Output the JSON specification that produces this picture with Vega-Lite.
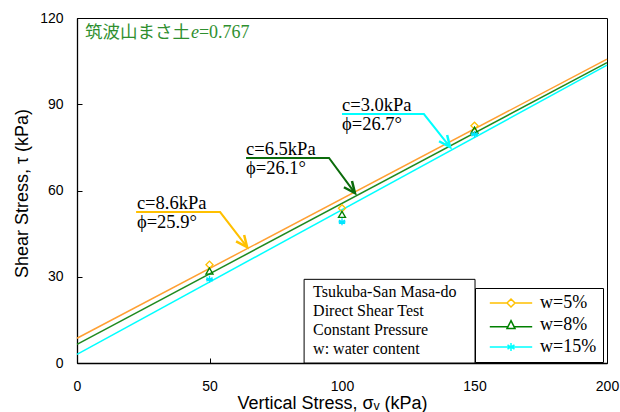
{
  "$schema": "https://vega.github.io/schema/vega-lite/v6.json",
  "width": 530,
  "height": 345,
  "autosize": {"type": "none"},
  "padding": {"left": 77, "top": 18, "right": 13, "bottom": 49},
  "background": "white",
  "config": {
    "view": {"stroke": "black", "strokeWidth": 1},
    "axis": {
      "grid": false,
      "domainColor": "black",
      "domainWidth": 1.3,
      "tickColor": "black",
      "tickSize": -5,
      "labelFlush": false,
      "labelFont": "Liberation Sans",
      "labelFontSize": 14,
      "labelColor": "black",
      "titleFont": "Liberation Sans",
      "titleFontSize": 18,
      "titleFontWeight": "normal",
      "titleColor": "black"
    }
  },
  "datasets": {
    "fits": [
      {"series": "w=5%", "x": 0, "y": 8.6},
      {"series": "w=5%", "x": 200, "y": 105.7},
      {"series": "w=8%", "x": 0, "y": 6.5},
      {"series": "w=8%", "x": 200, "y": 104.5},
      {"series": "w=15%", "x": 0, "y": 3.0},
      {"series": "w=15%", "x": 200, "y": 103.6}
    ],
    "tests": [
      {"series": "w=5%", "x": 50, "y": 34.2},
      {"series": "w=5%", "x": 100, "y": 53.8},
      {"series": "w=5%", "x": 150, "y": 82.5},
      {"series": "w=8%", "x": 50, "y": 32.0},
      {"series": "w=8%", "x": 100, "y": 51.7},
      {"series": "w=8%", "x": 150, "y": 81.0},
      {"series": "w=15%", "x": 50, "y": 29.1},
      {"series": "w=15%", "x": 100, "y": 49.1},
      {"series": "w=15%", "x": 150, "y": 79.5}
    ],
    "arrows": [
      {"series": "w=5%", "step": 1, "x": 22.3, "y": 52.5},
      {"series": "w=5%", "step": 2, "x": 54.0, "y": 52.5},
      {"series": "w=5%", "step": 3, "x": 64.2, "y": 40.3},
      {"series": "w=8%", "step": 1, "x": 63.8, "y": 71.3},
      {"series": "w=8%", "step": 2, "x": 95.1, "y": 71.3},
      {"series": "w=8%", "step": 3, "x": 104.9, "y": 59.1},
      {"series": "w=15%", "step": 1, "x": 100.0, "y": 86.6},
      {"series": "w=15%", "step": 2, "x": 130.9, "y": 86.6},
      {"series": "w=15%", "step": 3, "x": 140.8, "y": 75.1}
    ],
    "notes": [
      {"series": "w=5%", "c": "c=8.6kPa", "phi": "ϕ=25.9°", "x": 22.6, "y": 52.5},
      {"series": "w=8%", "c": "c=6.5kPa", "phi": "ϕ=26.1°", "x": 63.8, "y": 71.3},
      {"series": "w=15%", "c": "c=3.0kPa", "phi": "ϕ=26.7°", "x": 100.0, "y": 86.6}
    ],
    "info": [
      {"text": "Tsukuba-San Masa-do\nDirect Shear Test\nConstant Pressure\nw: water content"}
    ]
  },
  "layer": [
    {
      "data": {"name": "fits"},
      "mark": {"type": "line", "strokeWidth": 1.5},
      "encoding": {
        "x": {
          "field": "x", "type": "quantitative",
          "scale": {"domain": [0, 200], "nice": false},
          "axis": {
            "values": [0, 50, 100, 150, 200],
            "title": "Vertical Stress, σᵥ (kPa)",
            "labelPadding": 21,
            "titleX": 255, "titleY": 45,
            "titleBaseline": "alphabetic", "titleAlign": "center"
          }
        },
        "y": {
          "field": "y", "type": "quantitative",
          "scale": {"domain": [0, 120], "nice": false},
          "axis": {
            "values": [0, 30, 60, 90, 120],
            "title": "Shear Stress,  τ  (kPa)",
            "labelPadding": 19,
            "titleX": -55, "titleY": 175,
            "titleAngle": 270,
            "titleBaseline": "middle", "titleAlign": "center"
          }
        },
        "color": {
          "field": "series", "type": "nominal",
          "scale": {"domain": ["w=5%", "w=8%", "w=15%"], "range": ["#FFA033", "#1F8A1F", "#00FFFF"]},
          "legend": null
        }
      }
    },
    {
      "data": {"name": "arrows"},
      "mark": {"type": "line", "strokeWidth": 2},
      "encoding": {
        "x": {"field": "x", "type": "quantitative"},
        "y": {"field": "y", "type": "quantitative"},
        "order": {"field": "step"},
        "color": {
          "field": "series", "type": "nominal",
          "scale": {"domain": ["w=5%", "w=8%", "w=15%"], "range": ["#FFC000", "#0B6B0B", "#00FFFF"]},
          "legend": null
        }
      }
    },
    {
      "data": {"name": "arrows"},
      "transform": [{"filter": "datum.step === 3"}],
      "mark": {"type": "point", "filled": false, "opacity": 1, "strokeWidth": 2.5, "size": 520, "angle": 322, "shape": "M-0.45,-1L0,0L0.45,-1"},
      "encoding": {
        "x": {"field": "x", "type": "quantitative"},
        "y": {"field": "y", "type": "quantitative"},
        "color": {
          "field": "series", "type": "nominal",
          "scale": {"domain": ["w=5%", "w=8%", "w=15%"], "range": ["#FFC000", "#0B6B0B", "#00FFFF"]},
          "legend": null
        }
      }
    },
    {
      "data": {"name": "notes"},
      "mark": {"type": "text", "align": "left", "baseline": "middle", "dy": -9, "font": "Liberation Serif", "fontSize": 18.5, "color": "black"},
      "encoding": {
        "x": {"field": "x", "type": "quantitative"},
        "y": {"field": "y", "type": "quantitative"},
        "text": {"field": "c"}
      }
    },
    {
      "data": {"name": "notes"},
      "mark": {"type": "text", "align": "left", "baseline": "middle", "dy": 10, "font": "Liberation Serif", "fontSize": 18.5, "color": "black"},
      "encoding": {
        "x": {"field": "x", "type": "quantitative"},
        "y": {"field": "y", "type": "quantitative"},
        "text": {"field": "phi"}
      }
    },
    {
      "data": {"values": [{}]},
      "mark": {"type": "rect", "fill": "white", "stroke": "black", "strokeWidth": 1},
      "encoding": {
        "x": {"datum": 85.7, "type": "quantitative"},
        "x2": {"datum": 150.2},
        "y": {"datum": 0, "type": "quantitative"},
        "y2": {"datum": 29.1}
      }
    },
    {
      "data": {"name": "info"},
      "mark": {"type": "text", "align": "left", "baseline": "alphabetic", "lineBreak": "\n", "lineHeight": 19, "font": "Liberation Serif", "fontSize": 16, "color": "black"},
      "encoding": {
        "x": {"datum": 89.1, "type": "quantitative"},
        "y": {"datum": 22.8, "type": "quantitative"},
        "text": {"field": "text"}
      }
    },
    {
      "data": {"name": "tests"},
      "mark": {"type": "point", "filled": false, "opacity": 1, "strokeWidth": 1.3, "size": 50},
      "encoding": {
        "x": {"field": "x", "type": "quantitative"},
        "y": {"field": "y", "type": "quantitative"},
        "color": {
          "field": "series", "type": "nominal",
          "scale": {"domain": ["w=5%", "w=8%", "w=15%"], "range": ["#FFC000", "#008000", "#00E5FF"]},
          "legend": null
        },
        "shape": {
          "field": "series", "type": "nominal",
          "scale": {"domain": ["w=5%", "w=8%", "w=15%"], "range": ["diamond", "triangle-up", "M-1,0L1,0M0,-1L0,1M-0.87,-0.5L0.87,0.5M-0.87,0.5L0.87,-0.5"]},
          "legend": null
        }
      }
    },
    {
      "data": {"name": "tests"},
      "transform": [{"filter": "datum.x > 1000"}],
      "mark": {"type": "point", "filled": false, "opacity": 1, "strokeWidth": 1.5, "size": 64},
      "encoding": {
        "x": {"field": "x", "type": "quantitative"},
        "y": {"field": "y", "type": "quantitative"},
        "color": {
          "field": "series", "type": "nominal",
          "scale": {"domain": ["w=5%", "w=8%", "w=15%"], "range": ["#FFC000", "#008000", "#00FFFF"]},
          "legend": {
            "orient": "none", "legendX": 398, "legendY": 270,
            "title": null, "direction": "vertical",
            "strokeColor": "black", "fillColor": "white", "padding": 6,
            "symbolSize": 64, "symbolStrokeWidth": 1.5, "symbolOffset": 21,
            "labelOffset": 20, "labelFont": "Liberation Serif", "labelFontSize": 18, "labelColor": "black",
            "rowPadding": 4, "cornerRadius": 0
          }
        },
        "shape": {
          "field": "series", "type": "nominal",
          "scale": {"domain": ["w=5%", "w=8%", "w=15%"], "range": ["M-5.3,0L-1,0M1,0L5.3,0M0,-1L1,0L0,1L-1,0Z", "M-5.3,0.45L-0.78,0.45M0.78,0.45L5.3,0.45M0,-1.1L1,0.9L-1,0.9Z", "M-5.3,0L5.3,0M0,-1L0,1M-0.87,-0.5L0.87,0.5M-0.87,0.5L0.87,-0.5"]},
          "legend": {
            "orient": "none", "legendX": 398, "legendY": 270,
            "title": null, "direction": "vertical",
            "strokeColor": "black", "fillColor": "white", "padding": 6,
            "symbolSize": 64, "symbolStrokeWidth": 1.5, "symbolOffset": 21,
            "labelOffset": 20, "labelFont": "Liberation Serif", "labelFontSize": 18, "labelColor": "black",
            "rowPadding": 4, "cornerRadius": 0
          }
        }
      }
    },
    {
      "data": {"values": [{}]},
      "mark": {"type": "text", "align": "left", "baseline": "alphabetic", "font": "Noto Sans CJK JP", "fontSize": 17.5, "color": "#2F8F2F"},
      "encoding": {
        "x": {"datum": 3.0, "type": "quantitative"},
        "y": {"datum": 113.2, "type": "quantitative"},
        "text": {"value": "筑波山まさ土"}
      }
    },
    {
      "data": {"values": [{}]},
      "mark": {"type": "text", "align": "left", "baseline": "alphabetic", "font": "Liberation Serif", "fontStyle": "italic", "fontSize": 18, "color": "#2F8F2F"},
      "encoding": {
        "x": {"datum": 43.0, "type": "quantitative"},
        "y": {"datum": 113.2, "type": "quantitative"},
        "text": {"value": "e"}
      }
    },
    {
      "data": {"values": [{}]},
      "mark": {"type": "text", "align": "left", "baseline": "alphabetic", "font": "Liberation Serif", "fontSize": 18, "color": "#2F8F2F"},
      "encoding": {
        "x": {"datum": 46.0, "type": "quantitative"},
        "y": {"datum": 113.2, "type": "quantitative"},
        "text": {"value": "=0.767"}
      }
    }
  ],
  "resolve": {"scale": {"color": "independent", "shape": "independent"}}
}
